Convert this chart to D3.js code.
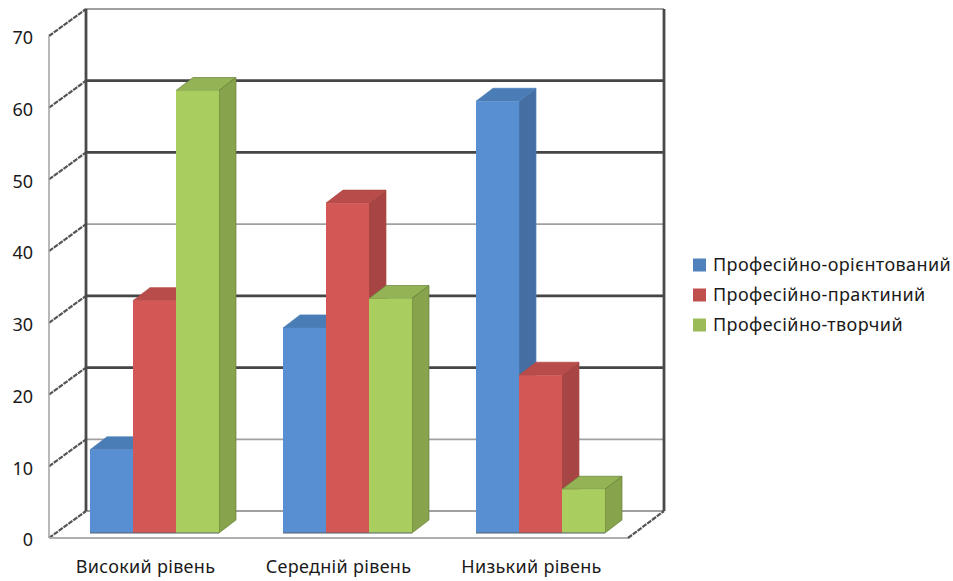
<!DOCTYPE html>
<html>
<head>
<meta charset="utf-8">
<script src="https://cdn.jsdelivr.net/npm/d3@7"></script>
<style>
  html, body { margin: 0; background: #fff; }
  text { font-family: "Noto Sans", sans-serif; fill: #1a1a1a; }
</style>
</head>
<body>
<div id="chart"></div>
<script>
const categories = ['Високий рівень', 'Середній рівень', 'Низький рівень']
const seriesNames = ['Професійно-орієнтований', 'Професійно-практиний', 'Професійно-творчий']
const orientedValues = [11.6, 28.6, 60.2]
const practicalValues = [32.4, 46, 22]
const creativeValues = [61.7, 32.7, 6.1]
const yTicks = [0, 10, 20, 30, 40, 50, 60, 70]

const seriesValues = [orientedValues, practicalValues, creativeValues]
const colors = [
  { front: '#588fd2', top: '#4a7db5', side: '#456fa3', legend: '#4f81bd', edge: '#4f81bd' },
  { front: '#d25755', top: '#b84c4a', side: '#a64544', legend: '#c0504d', edge: '#b04a48' },
  { front: '#a9cd5f', top: '#94b354', side: '#87a44c', legend: '#9bbb59', edge: '#66803a' },
]

const width = 953,
  height = 581
// depth of the 3d box and where the bars sit in it
const depth = { x: 37, y: -27 }
const barDepth = { x: 17, y: -13 }
const barShift = { x: 9, y: -5 }

const svg = d3.select('#chart').append('svg').attr('width', width).attr('height', height)

const x = d3.scaleBand().domain(categories).range([49, 628])
const y = d3.scaleLinear().domain([0, 70]).range([538, 36])

// back wall and floor
const walls = svg.append('g').attr('fill', 'none')
const heavy = new Set([20, 30, 50, 60])
yTicks.forEach((t) => {
  walls
    .append('line')
    .attr('x1', 49 + depth.x)
    .attr('x2', 628 + depth.x - 1)
    .attr('y1', y(t) + depth.y)
    .attr('y2', y(t) + depth.y)
    .attr('stroke', heavy.has(t) ? '#454545' : '#a0a0a0')
    .attr('stroke-width', heavy.has(t) ? 2.8 : 1.8)
  walls
    .append('line')
    .attr('x1', 49)
    .attr('x2', 49 + depth.x)
    .attr('y1', y(t))
    .attr('y2', y(t) + depth.y)
    .attr('stroke', '#555')
    .attr('stroke-width', 2.2)
    .attr('stroke-dasharray', '5 1')
})
walls
  .append('line')
  .attr('x1', 49).attr('x2', 49)
  .attr('y1', y(70)).attr('y2', y(0))
  .attr('stroke', '#a0a0a0').attr('stroke-width', 1.5)
walls
  .append('line')
  .attr('x1', 49).attr('x2', 628)
  .attr('y1', y(0)).attr('y2', y(0))
  .attr('stroke', '#b0b0b0').attr('stroke-width', 2)
walls
  .append('line')
  .attr('x1', 628).attr('x2', 628 + depth.x - 1)
  .attr('y1', y(0)).attr('y2', y(0) + depth.y)
  .attr('stroke', '#555').attr('stroke-width', 2.2).attr('stroke-dasharray', '5 1')
;[49 + depth.x, 628 + depth.x - 1].forEach((wx) => {
  walls
    .append('line')
    .attr('x1', wx).attr('x2', wx)
    .attr('y1', y(70) + depth.y).attr('y2', y(0) + depth.y)
    .attr('stroke', '#4a4a4a').attr('stroke-width', 2.8)
})

// bars, series order so the later ones cover the sides of the earlier ones
const barW = 43
const groupW = barW * seriesValues.length
const bars = svg.append('g')
categories.forEach((c, ci) => {
  const left = x(c) + (x.bandwidth() - groupW) / 2 + barShift.x
  seriesValues.forEach((vals, si) => {
    const col = colors[si]
    const x0 = left + si * barW
    const x1 = x0 + barW
    const yTop = y(vals[ci]) + barShift.y
    const yBase = y(0) + barShift.y
    const dx = barDepth.x
    const dy = barDepth.y
    bars
      .append('path')
      .attr('d', `M${x0},${yTop}L${x0 + dx},${yTop + dy}L${x1 + dx},${yTop + dy}L${x1},${yTop}Z`)
      .attr('fill', col.top).attr('stroke', col.edge).attr('stroke-width', 0.7)
    bars
      .append('path')
      .attr('d', `M${x1},${yTop}L${x1 + dx},${yTop + dy}L${x1 + dx},${yBase + dy}L${x1},${yBase}Z`)
      .attr('fill', col.side).attr('stroke', col.edge).attr('stroke-width', 0.7)
    bars
      .append('rect')
      .attr('x', x0).attr('y', yTop)
      .attr('width', barW).attr('height', yBase - yTop)
      .attr('fill', col.front)
  })
  bars
    .append('line')
    .attr('x1', left).attr('x2', left + groupW)
    .attr('y1', y(0) + barShift.y).attr('y2', y(0) + barShift.y)
    .attr('stroke', '#55606a').attr('stroke-width', 1)
})

// axes, only the labels are kept
const yAxis = svg
  .append('g')
  .attr('transform', 'translate(33,2)')
  .call(d3.axisLeft(y).tickValues(yTicks).tickSize(0).tickPadding(0))
yAxis.select('.domain').remove()
yAxis.selectAll('text').style('font-size', '18px')

const xAxis = svg
  .append('g')
  .attr('transform', 'translate(0,560)')
  .call(d3.axisBottom(x).tickSize(0).tickPadding(0))
xAxis.select('.domain').remove()
xAxis.selectAll('text').style('font-size', '18px').style('letter-spacing', '0.3px')

// legend
const legendY = d3.scalePoint().domain(seriesNames).range([265, 325])
const legend = svg.append('g')
seriesNames.forEach((name, i) => {
  legend
    .append('rect')
    .attr('x', 693).attr('y', legendY(name) - 6.5)
    .attr('width', 13).attr('height', 13)
    .attr('fill', colors[i].legend)
  legend
    .append('text')
    .attr('x', 713).attr('y', legendY(name))
    .attr('dy', '0.35em')
    .style('font-size', '18px')
    .style('letter-spacing', '0.4px')
    .text(name)
})
</script>
</body>
</html>
